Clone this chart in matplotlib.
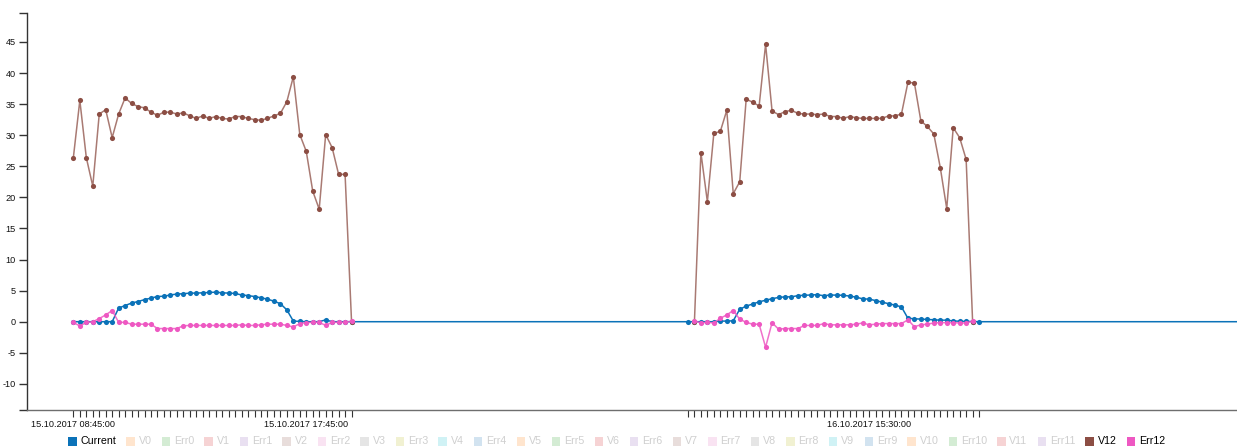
import matplotlib
matplotlib.use("Agg")
import matplotlib.pyplot as plt
import matplotlib.dates as mdates
from matplotlib.patches import Rectangle
from matplotlib.ticker import FixedLocator, FuncFormatter
import pandas as pd

plt.rcParams['font.family'] = ['Liberation Sans', 'DejaVu Sans']

# ---- timestamps (15 minute sampling) ----
day1_times = pd.date_range('2017-10-15 08:45', '2017-10-15 19:30', freq='15min')
day2_times = pd.date_range('2017-10-16 08:45', '2017-10-16 19:30', freq='15min')
day2_current_times = pd.date_range('2017-10-16 08:30', '2017-10-16 19:45', freq='15min')
current_tail_time = pd.Timestamp('2017-10-17 08:30')

# ---- series values ----
current_day1 = [0, 0, 0, 0, 0, 0, 0, 2.2, 2.6, 3.0, 3.25, 3.55, 3.8, 4.05, 4.1, 4.3,
                4.45, 4.5, 4.6, 4.6, 4.65, 4.7, 4.75, 4.65, 4.6, 4.55, 4.3, 4.2, 4.05,
                3.85, 3.63, 3.3, 2.9, 1.9, 0.1, 0.05, 0, 0, 0, 0.3, 0, 0, 0, 0]
current_day2 = [0, 0, 0, 0, 0, 0.1, 0.1, 0.15, 2.0, 2.5, 2.85, 3.2, 3.45, 3.7, 3.9,
                4.0, 4.0, 4.2, 4.25, 4.3, 4.35, 4.17, 4.3, 4.27, 4.25, 4.12, 3.95,
                3.68, 3.63, 3.4, 3.15, 2.9, 2.67, 2.38, 0.55, 0.47, 0.42, 0.36, 0.31,
                0.25, 0.25, 0.12, 0.08, 0.05, 0.03, 0]
current_tail = [0]

v12_day1 = [26.4, 35.6, 26.4, 21.8, 33.4, 34.1, 29.6, 33.4, 36.0, 35.1, 34.6, 34.4,
            33.7, 33.2, 33.7, 33.7, 33.4, 33.6, 33.1, 32.7, 33.1, 32.7, 33.0, 32.7,
            32.6, 33.0, 33.0, 32.7, 32.5, 32.4, 32.7, 33.1, 33.5, 35.4, 39.4, 30.1,
            27.4, 21.0, 18.1, 30.1, 28.0, 23.7, 23.7, 0.0]
v12_day2 = [0.0, 27.2, 19.3, 30.3, 30.6, 34.0, 20.6, 22.5, 35.8, 35.3, 34.7, 44.6,
            33.9, 33.3, 33.8, 34.0, 33.5, 33.4, 33.4, 33.3, 33.4, 33.0, 33.0, 32.7,
            33.0, 32.8, 32.7, 32.7, 32.7, 32.7, 33.1, 33.1, 33.4, 38.5, 38.4, 32.3,
            31.4, 30.2, 24.8, 18.2, 31.2, 29.6, 26.1, 0.0]

err12_day1 = [-0.1, -0.7, -0.1, 0.0, 0.5, 1.1, 1.8, -0.1, -0.1, -0.4, -0.4, -0.4,
              -0.4, -1.1, -1.1, -1.1, -1.1, -0.65, -0.6, -0.6, -0.6, -0.6, -0.6, -0.6,
              -0.6, -0.6, -0.5, -0.6, -0.6, -0.5, -0.4, -0.4, -0.4, -0.6, -0.85, -0.3,
              -0.15, -0.1, -0.1, -0.6, -0.1, -0.1, -0.1, 0.1]
err12_day2 = [0.15, -0.2, -0.1, -0.2, 0.55, 1.1, 1.8, 0.4, -0.1, -0.4, -0.4, -4.1,
              -0.15, -1.2, -1.1, -1.1, -1.1, -0.6, -0.6, -0.6, -0.3, -0.5, -0.5, -0.5,
              -0.5, -0.4, -0.2, -0.5, -0.4, -0.3, -0.3, -0.3, -0.3, 0.3, -0.8, -0.5,
              -0.4, -0.2, -0.15, -0.15, -0.15, -0.2, -0.2, 0.1]

# ---- legend entries and axis labels ----
series_names = ['Current'] + [n for i in range(13) for n in (f'V{i}', f'Err{i}')]
active_series = ['Current', 'V12', 'Err12']
palette = ['#1f77b4', '#ff7f0e', '#2ca02c', '#d62728', '#9467bd',
           '#8c564b', '#e377c2', '#7f7f7f', '#bcbd22', '#17becf']
line_colors = {'Current': '#0b72b8', 'V12': '#8c4e44', 'Err12': '#ee58c2'}
labelled_times = [pd.Timestamp('2017-10-15 08:45'), pd.Timestamp('2017-10-15 17:45'),
                  pd.Timestamp('2017-10-16 15:30')]
y_ticks = list(range(-10, 50, 5))
y_range = (-14.2, 49.7)
x_range = (pd.Timestamp('2017-10-15 06:57:30'), pd.Timestamp('2017-10-17 05:43'))

W, H = 1237, 447
fig = plt.figure(figsize=(W / 100, H / 100), dpi=100)
ax = fig.add_axes([27 / W, 1 - 410 / H, 1 - 27 / W, (410 - 12.7) / H])

current_times = list(day1_times) + list(day2_current_times) + [current_tail_time]
current_vals = current_day1 + current_day2 + current_tail
v_times = list(day1_times) + list(day2_times)

# Current: one continuous line, the gaps between days run along zero
ax.plot(current_times, current_vals, color=line_colors['Current'], lw=1.1,
        marker='o', ms=3.7, mew=0, zorder=3)
# V12 and Err12 are drawn per day
for times, vals in ((day1_times, v12_day1), (day2_times, v12_day2)):
    ax.plot(times, vals, color=line_colors['V12'], lw=1.1, alpha=0.75, zorder=4)
    ax.plot(times, vals, ls='none', marker='o', ms=3.7, mew=0,
            color=line_colors['V12'], zorder=4.5)
for times, vals in ((day1_times, err12_day1), (day2_times, err12_day2)):
    ax.plot(times, vals, color=line_colors['Err12'], lw=1.1, alpha=0.85, zorder=5)
    ax.plot(times, vals, ls='none', marker='o', ms=3.7, mew=0,
            color=line_colors['Err12'], zorder=5.5)

ax.set_xlim(*x_range)
ax.set_ylim(*y_range)

for s in ('top', 'right'):
    ax.spines[s].set_visible(False)
ax.spines['left'].set_color('#333333')
ax.spines['left'].set_linewidth(1.0)
ax.spines['bottom'].set_color('#6e6e6e')
ax.spines['bottom'].set_linewidth(1.0)

# y axis: regular ticks plus outer ticks at both ends of the domain
ax.set_yticks(y_ticks + list(y_range))
ax.set_yticklabels([str(v) for v in y_ticks] + ['', ''])
ax.tick_params(axis='y', length=6, width=1, color='#333333', labelsize=6.6,
               pad=2, labelcolor='#111111')

# x axis: a tick at every sample time, labels only at a few
tick_times = sorted(set(current_times[:-1]) | set(v_times))
tick_nums = [mdates.date2num(t) for t in tick_times]
label_nums = {round(mdates.date2num(t), 6): t.strftime('%d.%m.%Y %H:%M:%S')
              for t in labelled_times}
ax.xaxis.set_major_locator(FixedLocator(tick_nums))
ax.xaxis.set_major_formatter(FuncFormatter(lambda v, p: label_nums.get(round(v, 6), '')))
ax.tick_params(axis='x', length=5, width=0.8, color='#333333', labelsize=6.6,
               pad=2.5, labelcolor='#111111')

# legend row along the bottom
fig.canvas.draw()
renderer = fig.canvas.get_renderer()
x = 68.0
yc = H - 441.5
sq = 8.5
for i, name in enumerate(series_names):
    on = name in active_series
    col = line_colors[name] if on else palette[i % 10]
    fig.add_artist(Rectangle((x / W, (yc - sq / 2) / H), sq / W, sq / H,
                             transform=fig.transFigure, facecolor=col,
                             edgecolor='none', alpha=1.0 if on else 0.2))
    t = fig.text((x + sq + 3.7) / W, yc / H, name, fontsize=7.7, va='center',
                 ha='left', color='#000000' if on else '#cfcfcf')
    w = t.get_window_extent(renderer).width
    x = x + sq + 3.7 + w + 10.2

fig.savefig('out.png', dpi=100)
